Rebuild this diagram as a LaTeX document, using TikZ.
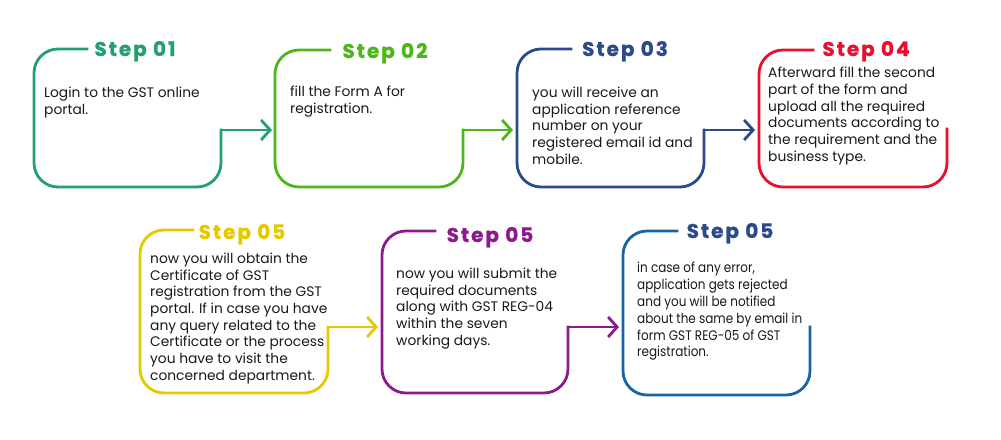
\documentclass[tikz,border=0pt]{standalone}
\usepackage{fontspec}
\setmainfont{Poppins}
\newfontfamily\titlefont{Poppins}[LetterSpace=10,FakeBold=1]
\newfontfamily\narrowfont{Poppins}[FakeStretch=0.87]
\usetikzlibrary{arrows.meta}
\definecolor{cgreen}{RGB}{34,160,110}
\definecolor{clime}{RGB}{77,183,26}
\definecolor{cnavy}{RGB}{43,74,139}
\definecolor{cred}{RGB}{232,16,46}
\definecolor{cyellow}{RGB}{229,201,0}
\definecolor{cpurple}{RGB}{140,26,140}
\definecolor{cblue}{RGB}{21,101,166}
\definecolor{ctext}{RGB}{25,25,25}
\tikzset{
  boxline/.style={line width=2.8pt, rounded corners=24pt, line cap=rect},
  conn/.style={line width=2.8pt, line cap=rect, -{Straight Barb[length=9pt,width=20pt]}},
  steptitle/.style={anchor=base, inner sep=0pt, font=\titlefont\bfseries\fontsize{20}{23}\selectfont},
  bodytext/.style={anchor=north west, inner sep=0pt, align=left, text=ctext, font=\fontsize{13.8}{16.7}\selectfont}
}
\begin{document}
\begin{tikzpicture}[x=1pt,y=-1pt]
\useasboundingbox (0,0) rectangle (1001,439);
% ---------- row 1 ----------
% box 1
\coordinate (s1) at (87,49);
\coordinate (e1) at (221,130);
\draw[boxline, cgreen] (s1) -- (34,49) -- (34,187) -- (221,187) -- (e1);
\node[steptitle, text=cgreen] (t1) at (135,56) {Step 01};
\node[bodytext] (b1) at (44,85.5) {\strut Login to the GST online\\portal.};
% box 2
\coordinate (s2) at (330,50);
\coordinate (in2) at (272,130);
\coordinate (e2) at (463,130);
\draw[boxline, clime] (s2) -- (275,50) -- (275,187) -- (463,187) -- (e2);
\node[steptitle, text=clime] (t2) at (385,58) {Step 02};
\node[bodytext] (b2) at (290,84.5) {\strut fill the Form A for\\registration.};
% box 3
\coordinate (s3) at (571,49);
\coordinate (in3) at (513,130);
\coordinate (e3) at (704,130);
\draw[boxline, cnavy] (s3) -- (517,49) -- (517,187) -- (704,187) -- (e3);
\node[steptitle, text=cnavy] (t3) at (625,56) {Step 03};
\node[bodytext] (b3) at (532,85.5) {\strut you will receive an\\application reference\\number on your\\registered email id and\\mobile.};
% box 4
\coordinate (s4) at (813,50);
\coordinate (in4) at (755,130);
\coordinate (e4) at (947,129);
\draw[boxline, cred] (s4) -- (759,50) -- (759,187) -- (947,187) -- (e4);
\node[steptitle, text=cred] (t4) at (866,56) {Step 04};
\node[bodytext] (b4) at (768,66) {\strut Afterward fill the second\\part of the form and\\upload all the required\\documents according to\\the requirement and the\\business type.};
% connectors row 1
\draw[conn, cgreen] (e1) -- (in2);
\draw[conn, clime] (e2) -- (in3);
\draw[conn, cnavy] (e3) -- (in4);
% ---------- row 2 ----------
% yellow box
\coordinate (s5) at (193,230);
\coordinate (e5) at (328,327);
\draw[boxline, cyellow] (s5) -- (140,230) -- (140,393) -- (328,393) -- (e5);
\node[steptitle, text=cyellow] (t5) at (242,239) {Step 05};
\node[bodytext] (b5) at (150,251.5) {\strut now you will obtain the\\Certificate of GST\\registration from the GST\\portal. If in case you have\\any query related to the\\Certificate or the process\\you have to visit the\\concerned department.};
% purple box
\coordinate (s6) at (435,231);
\coordinate (in6) at (378,327);
\coordinate (e6) at (568,327);
\draw[boxline, cpurple] (s6) -- (382,231) -- (382,393) -- (568,393) -- (e6);
\node[steptitle, text=cpurple] (t6) at (490,242) {Step 05};
\node[bodytext] (b6) at (396,266.5) {\strut now you will submit the\\required documents\\along with GST REG-04\\within the seven\\working days.};
% blue box
\coordinate (s7) at (677,231);
\coordinate (in7) at (619,327);
\coordinate (e7) at (810,327);
\draw[boxline, cblue] (s7) -- (623,231) -- (623,395) -- (810,395) -- (e7);
\node[steptitle, text=cnavy] (t7) at (730,238) {Step 05};
\node[bodytext, font=\narrowfont\fontsize{13.8}{16.8}\selectfont] (b7) at (637,261) {\strut in case of any error,\\application gets rejected\\and you will be notified\\about the same by email in\\form GST REG-05 of GST\\registration.};
% connectors row 2
\draw[conn, cyellow] (e5) -- (in6);
\draw[conn, cpurple] (e6) -- (in7);
\end{tikzpicture}
\end{document}
